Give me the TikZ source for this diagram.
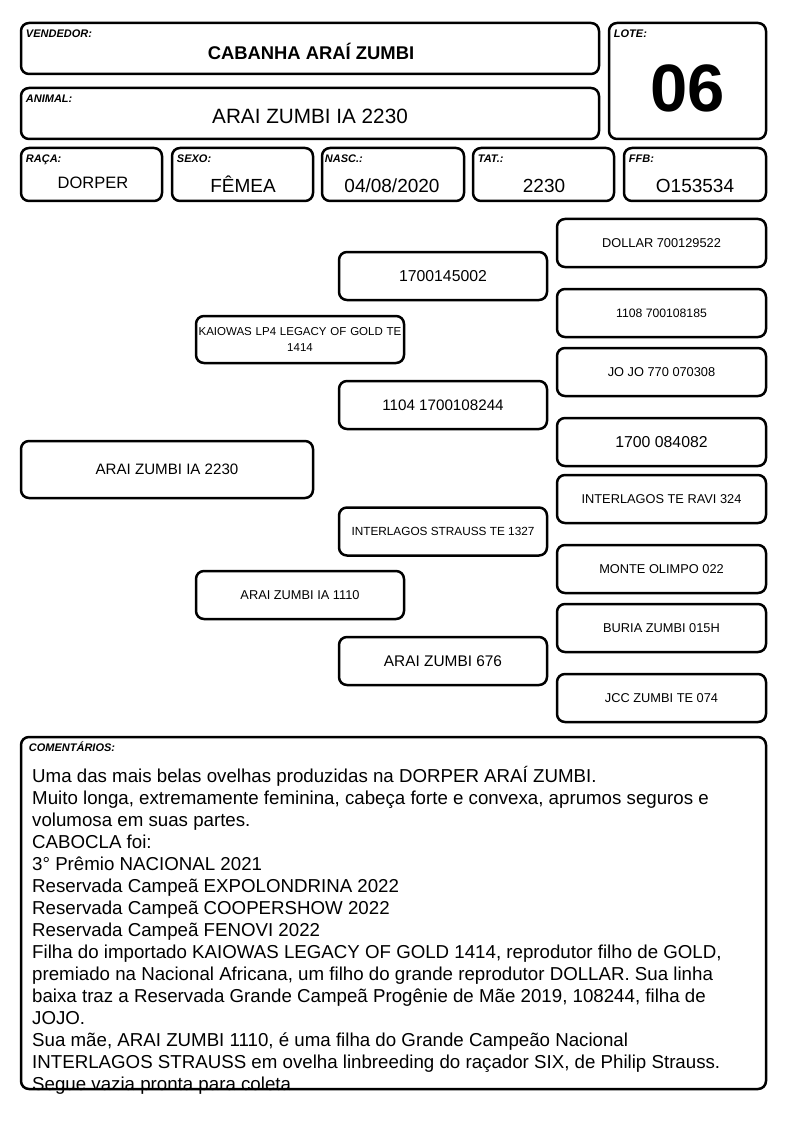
\documentclass[tikz,border=0pt]{standalone}
\usepackage{fontspec}
\setmainfont{Liberation Sans}
\usetikzlibrary{positioning}

\newcommand{\fs}[1]{\fontsize{#1}{#1}\selectfont}
\tikzset{
  box/.style={draw, line width=2.5pt, rounded corners=8pt, inner sep=0pt},
  lbl/.style={anchor=base west, inner sep=0pt, font=\bfseries\itshape\fs{11}},
  val/.style={anchor=base, inner sep=0pt},
  ped/.style={box, minimum width=208pt, minimum height=48pt, align=center, font=\fs{12.8}},
}

\begin{document}
\begin{tikzpicture}[x=1pt,y=-1pt]
    \useasboundingbox (0,0) rectangle (794,1123);
    % cabecalho
    \node[box, minimum width=578pt, minimum height=51pt] (vend) at (310,48.5) {};
    \node[lbl] (vendlbl) at ([shift={(6pt,-16pt)}]vend.north west) {VENDEDOR:};
    \node[val, font=\bfseries\fs{18.4}] (vendval) at (311,60) {CABANHA ARAÍ ZUMBI};
    \node[box, minimum width=578pt, minimum height=51pt] (anim) at (310,113.5) {};
    \node[lbl] (animlbl) at ([shift={(6pt,-16pt)}]anim.north west) {ANIMAL:};
    \node[val, font=\fs{20.7}] (animval) at (310,123.3) {ARAI ZUMBI IA 2230};
    \node[box, minimum width=157pt, minimum height=116pt] (lote) at (687.5,81) {};
    \node[lbl] (lotelbl) at ([shift={(6pt,-16pt)}]lote.north west) {LOTE:};
    \node[val, font=\bfseries\fs{67}] (loteval) at (687.5,111.5) {06};
    % linha de dados
    \node[box, minimum width=141pt, minimum height=53pt] (raca) at (91.5,174.5) {};
    \node[lbl] (racalbl) at ([shift={(6pt,-15.5pt)}]raca.north west) {RAÇA:};
    \node[val, font=\fs{16.5}] (racaval) at (93,188.3) {DORPER};
    \node[box, minimum width=141pt, minimum height=53pt] (sexo) at (242.5,174.5) {};
    \node[lbl] (sexolbl) at ([shift={(6pt,-15.5pt)}]sexo.north west) {SEXO:};
    \node[val, font=\fs{19}] (sexoval) at (243,192.3) {FÊMEA};
    \node[box, minimum width=142pt, minimum height=53pt] (nasc) at (393,174.5) {};
    \node[lbl] (nasclbl) at ([shift={(4pt,-15.5pt)}]nasc.north west) {NASC.:};
    \node[val, font=\fs{19}] (nascval) at (392,192.3) {04/08/2020};
    \node[box, minimum width=141pt, minimum height=53pt] (tat) at (543.5,174.5) {};
    \node[lbl] (tatlbl) at ([shift={(6pt,-15.5pt)}]tat.north west) {TAT.:};
    \node[val, font=\fs{19}] (tatval) at (544,192.3) {2230};
    \node[box, minimum width=142pt, minimum height=53pt] (ffb) at (695,174.5) {};
    \node[lbl] (ffblbl) at ([shift={(6pt,-15.5pt)}]ffb.north west) {FFB:};
    \node[val, font=\fs{19}] (ffbval) at (695,192.3) {O153534};
    % genealogia
    \node[ped, minimum width=292pt, minimum height=57pt, font=\fs{15.1}] (animal) at (167,469.5) {ARAI ZUMBI IA 2230};
    \node[ped, minimum height=47pt, font=\fontsize{11.5}{16}\selectfont, text width=206pt] (pai) at (300,339.5) {KAIOWAS LP4 LEGACY OF GOLD TE\\1414};
    \node[ped] (mae) at (300,595) {ARAI ZUMBI IA 1110};
    \node[ped, font=\fs{15.8}] (avopp) at (443,276) {1700145002};
    \node[ped, font=\fs{15.2}] (avopm) at (443,405) {1104 1700108244};
    \node[ped, font=\fs{11.8}] (avomp) at (443,531.5) {INTERLAGOS STRAUSS TE 1327};
    \node[ped, font=\fs{15.4}] (avomm) at (443,661) {ARAI ZUMBI 676};
    \node[ped, minimum width=209pt] (bis1) at (661.5,243) {DOLLAR 700129522};
    \node[ped, minimum width=209pt, font=\fs{12.2}] (bis2) at (661.5,313) {1108 700108185};
    \node[ped, minimum width=209pt] (bis3) at (661.5,372) {JO JO 770 070308};
    \node[ped, minimum width=209pt, font=\fs{15.8}] (bis4) at (661.5,442) {1700 084082};
    \node[ped, minimum width=209pt] (bis5) at (661.5,499) {INTERLAGOS TE RAVI 324};
    \node[ped, minimum width=209pt] (bis6) at (661.5,569) {MONTE OLIMPO 022};
    \node[ped, minimum width=209pt] (bis7) at (661.5,628) {BURIA ZUMBI 015H};
    \node[ped, minimum width=209pt] (bis8) at (661.5,698) {JCC ZUMBI TE 074};
    % comentarios
    \node[anchor=north west, inner sep=0pt, align=left, font=\fontsize{18.7}{22}\selectfont] (comtxt) at (32,766) {\rule{0pt}{14pt}Uma das mais belas ovelhas produzidas na DORPER ARAÍ ZUMBI.\\
      Muito longa, extremamente feminina, cabeça forte e convexa, aprumos seguros e\\
      volumosa em suas partes.\\
      CABOCLA foi:\\
      3° Prêmio NACIONAL 2021\\
      Reservada Campeã EXPOLONDRINA 2022\\
      Reservada Campeã COOPERSHOW 2022\\
      Reservada Campeã FENOVI 2022\\
      Filha do importado KAIOWAS LEGACY OF GOLD 1414, reprodutor filho de GOLD,\\
      premiado na Nacional Africana, um filho do grande reprodutor DOLLAR. Sua linha\\
      baixa traz a Reservada Grande Campeã Progênie de Mãe 2019, 108244, filha de\\
      JOJO.\\
      Sua mãe, ARAI ZUMBI 1110, é uma filha do Grande Campeão Nacional\\
      INTERLAGOS STRAUSS em ovelha linbreeding do raçador SIX, de Philip Strauss.\\
      Segue vazia pronta para coleta.};
    \node[box, minimum width=745pt, minimum height=352pt] (com) at (393.5,913) {};
    \node[lbl] (comlbl) at ([shift={(9pt,-15.5pt)}]com.north west) {COMENTÁRIOS:};
\end{tikzpicture}
\end{document}
